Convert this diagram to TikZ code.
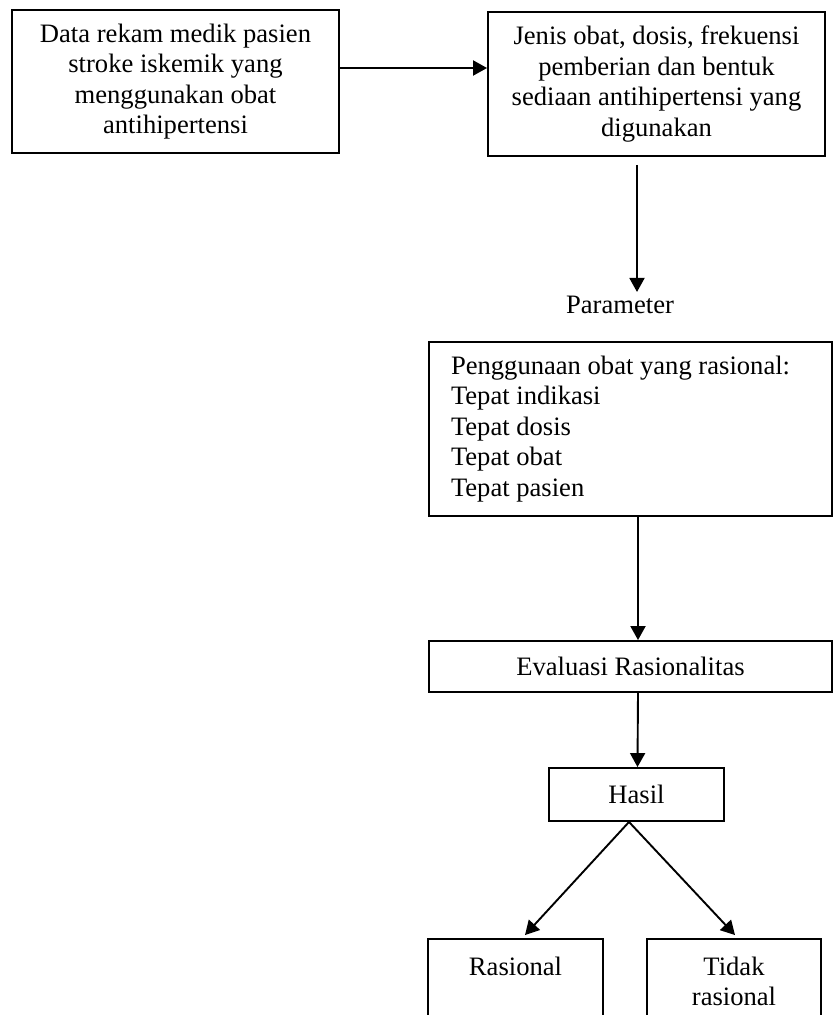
\documentclass[tikz,border=0pt]{standalone}
\usepackage{fontspec}
\setmainfont{Liberation Serif}
\usetikzlibrary{arrows.meta}
\begin{document}
\begin{tikzpicture}[x=1pt,y=-1pt,
  every node/.style={font=\fontsize{26.6}{30.5}\selectfont},
  box/.style={draw,line width=1.9pt,inner sep=0pt,align=center},
  arr/.style={line width=1.9pt,-{Triangle[length=14pt,width=15pt]}}]
\useasboundingbox (0,0) rectangle (834,1015);
\clip (0,0) rectangle (834,1015);
\node[box,minimum width=327pt,minimum height=143pt] (data) at (175.5,81.5)
  {Data rekam medik pasien\\stroke iskemik yang\\menggunakan obat\\antihipertensi};
\node[box,minimum width=337pt,minimum height=144pt] (jenis) at (656.5,84)
  {Jenis obat, dosis, frekuensi\\pemberian dan bentuk\\sediaan antihipertensi yang\\digunakan};
\node[inner sep=0pt] (param) at (620,305) {Parameter};
\node[box,align=flush left,text width=359pt,inner xsep=22pt,minimum height=174pt] (pola) at (630.5,429)
  {Penggunaan obat yang rasional:\\Tepat indikasi\\Tepat dosis\\Tepat obat\\Tepat pasien};
\node[box,minimum width=403pt,minimum height=51pt] (eval) at (630.5,666.5) {Evaluasi Rasionalitas};
\node[box,minimum width=175pt,minimum height=91pt] (ras) at (515.5,984.5) {\strut Rasional\\\strut};
\node[box,minimum width=174pt,minimum height=91pt] (tidak) at (734,984.5) {\strut Tidak\\\strut rasional};
\node[box,minimum width=175pt,minimum height=53pt] (hasil) at (636.5,794.5) {Hasil};
\draw[arr] ([yshift=13.5pt]data.east) -- ([yshift=16pt]jenis.west);
\draw[arr] ([xshift=-19.5pt,yshift=-8pt]jenis.south) -- ([xshift=17pt,yshift=4pt]param.north);
\draw[arr] ([xshift=7.5pt]pola.south) -- ([xshift=7.5pt]eval.north);
\draw[arr] ([xshift=7.5pt]eval.south) -- ([xshift=1pt]hasil.north);
\draw[arr] ([xshift=-7.5pt]hasil.south) -- ([xshift=9.5pt,yshift=3pt]ras.north);
\draw[arr] ([xshift=-7.5pt]hasil.south) -- ([xshift=1pt,yshift=3pt]tidak.north);
\end{tikzpicture}
\end{document}
